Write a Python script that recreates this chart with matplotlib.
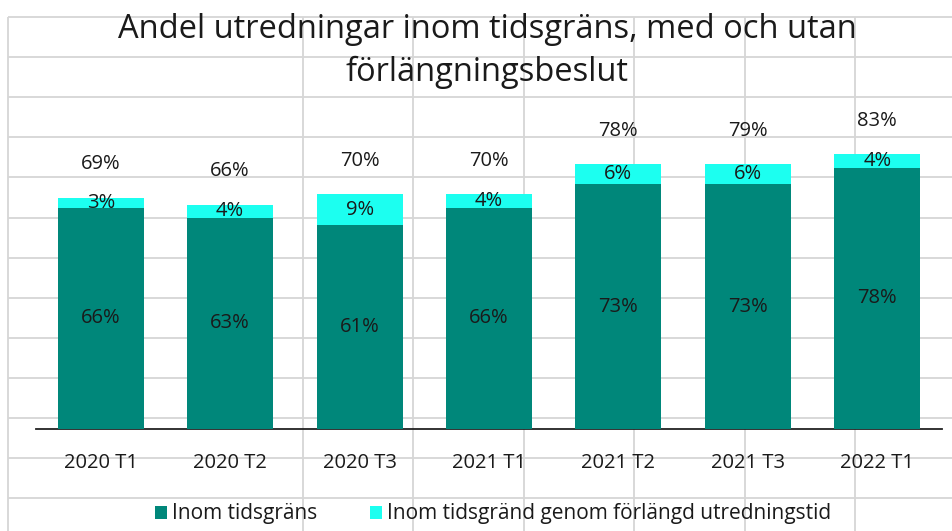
import matplotlib.pyplot as plt
import numpy as np

# andel utredningar per tertial (procent)
kategorier = ['2020 T1', '2020 T2', '2020 T3', '2021 T1', '2021 T2', '2021 T3', '2022 T1']
inom_tid = [66, 63, 61, 66, 73, 73, 78]
forlangd = [3, 4, 9, 4, 6, 6, 4]
totalt = [69, 66, 70, 70, 78, 79, 83]

MORK = '#00877A'
LJUS = '#1CFFF0'
TEXT = '#1a1a1a'

plt.rcParams['font.family'] = ['Open Sans', 'DejaVu Sans']

W, H = 953, 531
fig = plt.figure(figsize=(W / 100, H / 100), dpi=100)

# kalkylbladets rutnät i bakgrunden
bg = fig.add_axes([0, 0, 1, 1])
bg.set_xlim(0, W)
bg.set_ylim(H, 0)
bg.axis('off')
rader = np.arange(17, H, 40.1)
kolumner = [8, 303, 413, 524, 634, 745, 855]
bg.hlines(rader, 8, W, color='#d6d6d6', lw=1.3)
bg.vlines(kolumner, 17, H, color='#d6d6d6', lw=1.3)

ax = fig.add_axes([36 / W, 102 / H, 906 / W, 335 / H])
ax.patch.set_alpha(0)
x = np.arange(len(kategorier))
w = 0.665
ax.bar(x, inom_tid, w, color=MORK, label='Inom tidsgräns', zorder=3)
ax.bar(x, forlangd, w, bottom=inom_tid, color=LJUS,
       label='Inom tidsgränd genom förlängd utredningstid', zorder=3)

fs = 14.5
for i in range(len(x)):
    ax.text(x[i], inom_tid[i] / 2, f'{inom_tid[i]}%', ha='center', va='center',
            fontsize=fs, color=TEXT, zorder=4)
    ax.text(x[i], inom_tid[i] + forlangd[i] / 2, f'{forlangd[i]}%', ha='center',
            va='center', fontsize=fs, color=TEXT, zorder=4)
    ax.text(x[i], inom_tid[i] + forlangd[i] + 10, f'{totalt[i]}%', ha='center',
            va='center', fontsize=fs, color=TEXT, zorder=4)

ax.set_xlim(-0.5, len(x) - 0.5)
ax.set_ylim(0, 100)
ax.set_yticks([])
ax.set_xticks(x)
ax.set_xticklabels(kategorier, fontsize=fs, color=TEXT)
ax.tick_params(axis='x', length=0, pad=17)
for s in ['top', 'right', 'left']:
    ax.spines[s].set_visible(False)
ax.spines['bottom'].set_color('#222222')
ax.spines['bottom'].set_linewidth(1.3)

fig.text(487 / W, 1 - 30 / H, 'Andel utredningar inom tidsgräns, med och utan',
         ha='center', va='center', fontsize=23.5, color=TEXT)
fig.text(487 / W, 1 - 72 / H, 'förlängningsbeslut',
         ha='center', va='center', fontsize=23.5, color=TEXT)

fig.legend(loc='center', bbox_to_anchor=(493 / W, 1 - 514 / H), ncol=2,
           frameon=False, fontsize=15, handlelength=0.6, handleheight=0.6,
           handletextpad=0.25, columnspacing=2.5, labelcolor=TEXT)

fig.savefig('out.png', dpi=100)
